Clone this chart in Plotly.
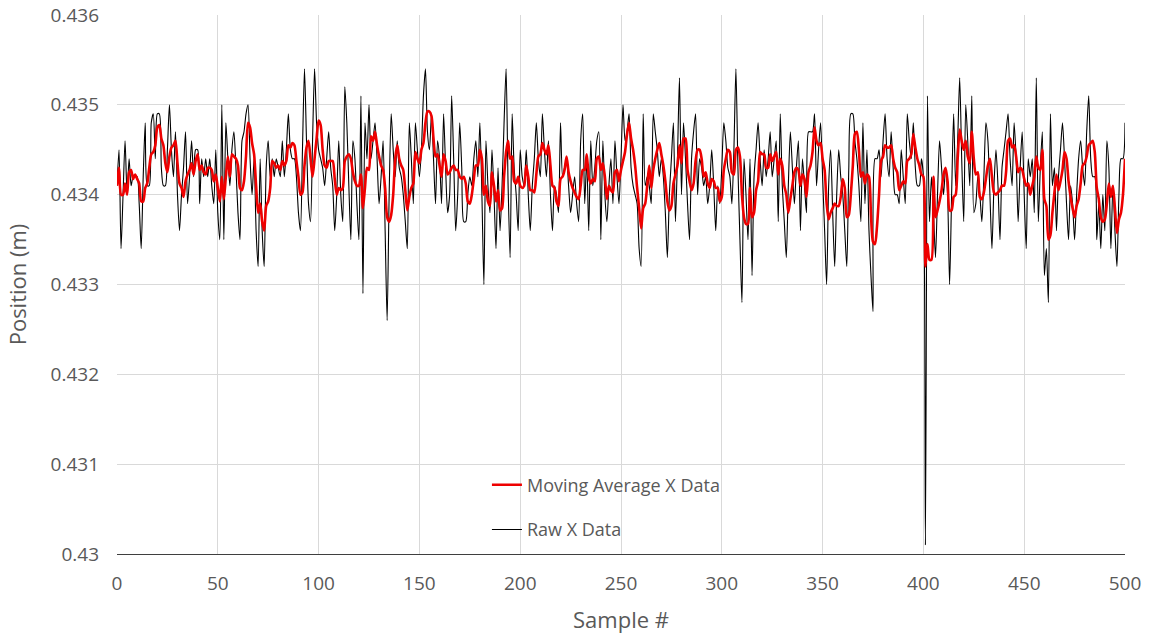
import pandas as pd
import plotly.graph_objects as go

# Raw X position readings (m), one per sample, rows of ten
raw_x = [
    0.4341, 0.4345, 0.4334, 0.4340, 0.4346, 0.4340, 0.4344, 0.4341, 0.4342, 0.4342,  # 0
    0.4342, 0.4339, 0.4334, 0.4342, 0.4348, 0.4341, 0.4341, 0.4348, 0.4349, 0.4344,  # 10
    0.4349, 0.4349, 0.4343, 0.4341, 0.4341, 0.4345, 0.4350, 0.4345, 0.4342, 0.4347,  # 20
    0.4340, 0.4336, 0.4340, 0.4343, 0.4347, 0.4339, 0.4342, 0.4346, 0.4342, 0.4345,  # 30
    0.4345, 0.4339, 0.4344, 0.4342, 0.4344, 0.4342, 0.4344, 0.4341, 0.4339, 0.4345,  # 40
    0.4338, 0.4335, 0.4350, 0.4335, 0.4348, 0.4344, 0.4341, 0.4345, 0.4347, 0.4343,  # 50
    0.4338, 0.4335, 0.4346, 0.4347, 0.4349, 0.4350, 0.4344, 0.4340, 0.4344, 0.4336,  # 60
    0.4332, 0.4344, 0.4336, 0.4332, 0.4343, 0.4346, 0.4342, 0.4344, 0.4342, 0.4344,  # 70
    0.4343, 0.4342, 0.4346, 0.4342, 0.4345, 0.4349, 0.4345, 0.4344, 0.4344, 0.4342,  # 80
    0.4338, 0.4336, 0.4345, 0.4354, 0.4346, 0.4339, 0.4337, 0.4346, 0.4354, 0.4348,  # 90
    0.4345, 0.4344, 0.4343, 0.4341, 0.4344, 0.4347, 0.4343, 0.4341, 0.4336, 0.4340,  # 100
    0.4346, 0.4340, 0.4337, 0.4352, 0.4348, 0.4341, 0.4335, 0.4346, 0.4344, 0.4339,  # 110
    0.4335, 0.4351, 0.4329, 0.4348, 0.4344, 0.4350, 0.4344, 0.4346, 0.4348, 0.4344,  # 120
    0.4339, 0.4342, 0.4346, 0.4336, 0.4326, 0.4340, 0.4349, 0.4345, 0.4342, 0.4346,  # 130
    0.4343, 0.4342, 0.4340, 0.4337, 0.4334, 0.4348, 0.4344, 0.4339, 0.4348, 0.4345,  # 140
    0.4342, 0.4345, 0.4351, 0.4354, 0.4347, 0.4345, 0.4349, 0.4344, 0.4339, 0.4346,  # 150
    0.4344, 0.4339, 0.4349, 0.4343, 0.4338, 0.4340, 0.4351, 0.4344, 0.4336, 0.4340,  # 160
    0.4348, 0.4343, 0.4337, 0.4337, 0.4340, 0.4342, 0.4341, 0.4344, 0.4346, 0.4342,  # 170
    0.4348, 0.4340, 0.4330, 0.4346, 0.4341, 0.4338, 0.4345, 0.4340, 0.4334, 0.4343,  # 180
    0.4336, 0.4341, 0.4348, 0.4354, 0.4341, 0.4333, 0.4349, 0.4343, 0.4340, 0.4336,  # 190
    0.4345, 0.4342, 0.4341, 0.4345, 0.4340, 0.4336, 0.4341, 0.4344, 0.4348, 0.4344,  # 200
    0.4342, 0.4349, 0.4345, 0.4342, 0.4346, 0.4340, 0.4336, 0.4341, 0.4340, 0.4338,  # 210
    0.4348, 0.4342, 0.4343, 0.4344, 0.4341, 0.4338, 0.4340, 0.4342, 0.4339, 0.4337,  # 220
    0.4346, 0.4349, 0.4339, 0.4344, 0.4336, 0.4346, 0.4341, 0.4343, 0.4346, 0.4347,  # 230
    0.4335, 0.4346, 0.4340, 0.4337, 0.4341, 0.4344, 0.4339, 0.4346, 0.4342, 0.4339,  # 240
    0.4344, 0.4350, 0.4346, 0.4347, 0.4349, 0.4343, 0.4341, 0.4340, 0.4339, 0.4334,  # 250
    0.4332, 0.4349, 0.4341, 0.4342, 0.4341, 0.4339, 0.4349, 0.4347, 0.4345, 0.4342,  # 260
    0.4344, 0.4342, 0.4338, 0.4333, 0.4340, 0.4344, 0.4348, 0.4337, 0.4344, 0.4353,  # 270
    0.4340, 0.4348, 0.4344, 0.4339, 0.4335, 0.4344, 0.4347, 0.4349, 0.4340, 0.4344,  # 280
    0.4343, 0.4341, 0.4342, 0.4339, 0.4341, 0.4345, 0.4341, 0.4336, 0.4341, 0.4339,  # 290
    0.4343, 0.4348, 0.4346, 0.4343, 0.4342, 0.4339, 0.4345, 0.4354, 0.4343, 0.4335,  # 300
    0.4328, 0.4344, 0.4340, 0.4335, 0.4344, 0.4331, 0.4342, 0.4345, 0.4348, 0.4344,  # 310
    0.4341, 0.4345, 0.4342, 0.4344, 0.4347, 0.4342, 0.4344, 0.4346, 0.4337, 0.4349,  # 320
    0.4341, 0.4337, 0.4333, 0.4341, 0.4347, 0.4343, 0.4339, 0.4343, 0.4346, 0.4336,  # 330
    0.4344, 0.4341, 0.4338, 0.4347, 0.4347, 0.4347, 0.4349, 0.4341, 0.4345, 0.4348,  # 340
    0.4342, 0.4336, 0.4330, 0.4341, 0.4345, 0.4338, 0.4332, 0.4340, 0.4345, 0.4342,  # 350
    0.4340, 0.4336, 0.4332, 0.4343, 0.4349, 0.4349, 0.4346, 0.4344, 0.4341, 0.4337,  # 360
    0.4348, 0.4339, 0.4345, 0.4336, 0.4331, 0.4327, 0.4344, 0.4344, 0.4345, 0.4342,  # 370
    0.4346, 0.4349, 0.4344, 0.4342, 0.4347, 0.4343, 0.4340, 0.4340, 0.4339, 0.4345,  # 380
    0.4342, 0.4339, 0.4349, 0.4346, 0.4344, 0.4348, 0.4343, 0.4341, 0.4341, 0.4344,  # 390
    0.4342, 0.4301, 0.4351, 0.4337, 0.4342, 0.4338, 0.4333, 0.4340, 0.4346, 0.4343,  # 400
    0.4340, 0.4343, 0.4340, 0.4330, 0.4340, 0.4349, 0.4341, 0.4346, 0.4353, 0.4344,  # 410
    0.4337, 0.4350, 0.4346, 0.4341, 0.4351, 0.4338, 0.4339, 0.4342, 0.4340, 0.4337,  # 420
    0.4342, 0.4348, 0.4346, 0.4340, 0.4334, 0.4341, 0.4345, 0.4341, 0.4335, 0.4343,  # 430
    0.4345, 0.4347, 0.4349, 0.4344, 0.4341, 0.4348, 0.4344, 0.4337, 0.4343, 0.4347,  # 440
    0.4340, 0.4334, 0.4344, 0.4342, 0.4344, 0.4338, 0.4353, 0.4337, 0.4343, 0.4347,  # 450
    0.4331, 0.4334, 0.4328, 0.4349, 0.4341, 0.4343, 0.4336, 0.4342, 0.4345, 0.4348,  # 460
    0.4344, 0.4339, 0.4335, 0.4341, 0.4339, 0.4335, 0.4340, 0.4344, 0.4346, 0.4343,  # 470
    0.4341, 0.4347, 0.4351, 0.4344, 0.4342, 0.4342, 0.4335, 0.4339, 0.4334, 0.4340,  # 480
    0.4336, 0.4346, 0.4343, 0.4334, 0.4341, 0.4336, 0.4332, 0.4340, 0.4344, 0.4344,  # 490
    0.4348,                                                                          # 500
]
sample_idx = list(range(len(raw_x)))

# Trailing 4-sample moving average of the raw readings
ma_period = 4
moving_avg = pd.Series(raw_x).rolling(ma_period, min_periods=1).mean().tolist()

x_ticks = list(range(0, 501, 50))
y_tick_vals = [0.430, 0.431, 0.432, 0.433, 0.434, 0.435, 0.436]
y_tick_text = ["0.43", "0.431", "0.432", "0.433", "0.434", "0.435", "0.436"]

FONT = "Open Sans"
GREY = "#595959"
GRID = "#d9d9d9"

fig = go.Figure()
fig.add_trace(go.Scatter(
    x=sample_idx, y=raw_x, mode="lines", name="Raw X Data",
    line=dict(color="#000000", width=1.1, shape="spline", smoothing=0.7),
    legend="legend2",
))
fig.add_trace(go.Scatter(
    x=sample_idx, y=moving_avg, mode="lines", name="Moving Average X Data",
    line=dict(color="#ee0000", width=2.6, shape="spline", smoothing=0.7),
    legend="legend",
))

legend_common = dict(
    bgcolor="rgba(0,0,0,0)", borderwidth=0,
    font=dict(family=FONT, size=18, color=GREY),
    xanchor="left", yanchor="middle", x=0.367,
    itemwidth=30,
)

fig.update_layout(
    width=1155, height=640,
    margin=dict(l=117, r=30, t=15, b=86, autoexpand=False),
    paper_bgcolor="white", plot_bgcolor="white",
    font=dict(family=FONT, color=GREY),
    showlegend=True,
    legend=dict(**legend_common, y=0.128),
    legend2=dict(**legend_common, y=0.045),
    xaxis=dict(
        range=[0, 500], tickvals=x_ticks, automargin=False,
        showgrid=True, gridcolor=GRID, gridwidth=1,
        zeroline=False, showline=True, linecolor="#3f3f3f", linewidth=1,
        ticks="", tickfont=dict(size=19, color=GREY), ticklabelstandoff=12,
        title=dict(text="Sample #", font=dict(size=22, color=GREY), standoff=17),
    ),
    yaxis=dict(
        range=[0.430, 0.436], tickvals=y_tick_vals, ticktext=y_tick_text,
        automargin=False,
        showgrid=True, gridcolor=GRID, gridwidth=1,
        zeroline=False, showline=False,
        ticks="", tickfont=dict(size=19, color=GREY), ticklabelstandoff=17,
        title=dict(text="Position (m)", font=dict(size=22, color=GREY), standoff=17),
    ),
)

fig.write_html("out.html")
